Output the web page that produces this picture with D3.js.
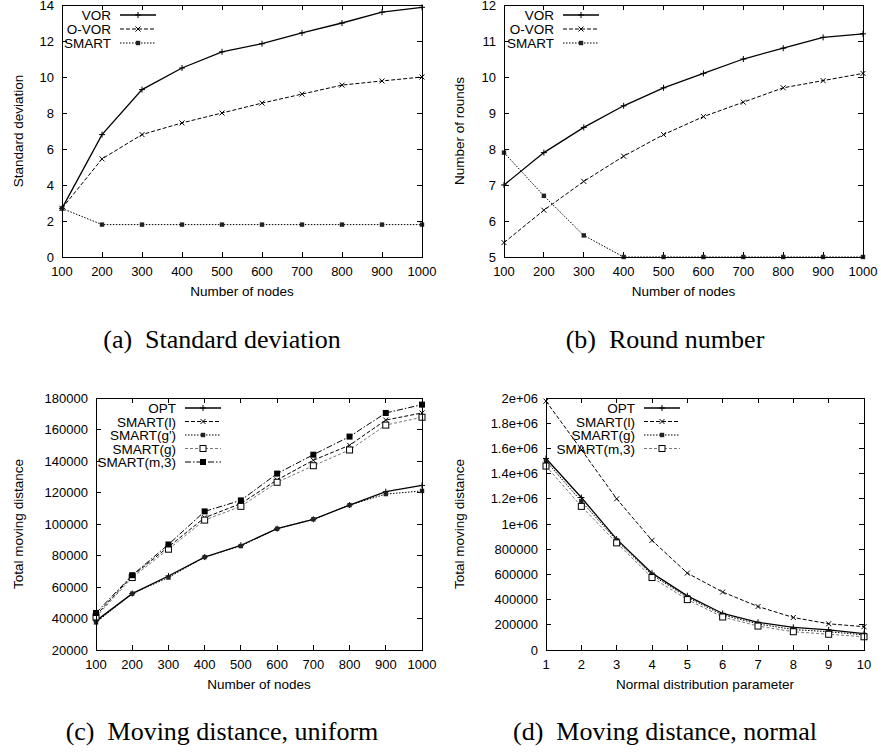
<!DOCTYPE html>
<html>
<head>
<meta charset="utf-8">
<script src="https://cdn.jsdelivr.net/npm/d3@7"></script>
<style>
body { margin: 0; background: #fff; }
svg { display: block; }
text { font-family: "Liberation Sans", Arial, sans-serif; fill: #000; }
.caption { font-family: "Liberation Serif", "Times New Roman", serif; font-size: 26px; }
</style>
</head>
<body>
<svg id="fig" width="881" height="753"></svg>
<script>
// x values
const nodeCounts = [100, 200, 300, 400, 500, 600, 700, 800, 900, 1000];
const normalParams = [1, 2, 3, 4, 5, 6, 7, 8, 9, 10];

// (a) standard deviation
const sdVor   = [2.7, 6.8, 9.3, 10.5, 11.4, 11.85, 12.45, 13.0, 13.6, 13.87];
const sdOVor  = [2.7, 5.45, 6.8, 7.45, 8.0, 8.55, 9.05, 9.55, 9.78, 10.0];
const sdSmart = [2.7, 1.8, 1.8, 1.8, 1.8, 1.8, 1.8, 1.8, 1.8, 1.8];

// (b) number of rounds
const rdVor   = [7.0, 7.9, 8.6, 9.2, 9.7, 10.1, 10.5, 10.8, 11.1, 11.2];
const rdOVor  = [5.4, 6.3, 7.1, 7.8, 8.4, 8.9, 9.3, 9.7, 9.9, 10.1];
const rdSmart = [7.9, 6.7, 5.6, 5.0, 5.0, 5.0, 5.0, 5.0, 5.0, 5.0];

// (c) moving distance, uniform
const uOpt     = [38500, 55800, 67000, 79000, 86500, 97000, 103000, 112000, 120500, 124500];
const uSmartL  = [42000, 67000, 85500, 104000, 113000, 128000, 140500, 150000, 166000, 170500];
const uSmartGp = [37500, 55800, 66000, 79000, 86000, 97000, 103000, 112000, 119000, 121000];
const uSmartG  = [41000, 66000, 84000, 102500, 111200, 126500, 137000, 147000, 162800, 167800];
const uSmartM3 = [43500, 67500, 87000, 108000, 115000, 132000, 144000, 155500, 170500, 175800];

// (d) moving distance, normal
const nOpt     = [1520000, 1210000, 880000, 610000, 430000, 290000, 220000, 180000, 160000, 130000];
const nSmartL  = [1975000, 1590000, 1200000, 870000, 610000, 460000, 345000, 258000, 208000, 185000];
const nSmartG  = [1500000, 1180000, 870000, 595000, 418000, 278000, 207000, 162000, 145000, 120000];
const nSmartM3 = [1460000, 1140000, 850000, 575000, 400000, 262000, 190000, 145000, 125000, 105000];

// tick labels
const sdTicks = [0, 2, 4, 6, 8, 10, 12, 14];
const rdTicks = [5, 6, 7, 8, 9, 10, 11, 12];
const uTicks = [20000, 40000, 60000, 80000, 100000, 120000, 140000, 160000, 180000];
const nTicks = [0, 200000, 400000, 600000, 800000, 1000000, 1200000, 1400000, 1600000, 1800000, 2000000];
const nTickLabels = ["0", "200000", "400000", "600000", "800000", "1e+06", "1.2e+06", "1.4e+06", "1.6e+06", "1.8e+06", "2e+06"];

//line styles
const styles = {
    solid:  { dash: null, width: 1.3, color: "#000" },
    dashed: { dash: "4,2", width: 1, color: "#000" },
    dotted: { dash: "1.5,1.5", width: 1, color: "#000" },
    gray:   { dash: "3,2", width: 1, color: "#777" },
    dashDot:{ dash: "6,2,1.5,2", width: 1, color: "#000" }
};

const svg = d3.select("#fig");

const panels = [
    {
        box: [62, 422, 5, 257], xs: nodeCounts, xDomain: [100, 1000], yDomain: [0, 14],
        yTicks: sdTicks, yLabels: sdTicks.map(String),
        xTitle: "Number of nodes", yTitle: "Standard deviation", yTitleX: 23,
        legendRight: 111, legendStep: 14,
        caption: "(a)\u2002Standard deviation", captionX: 222, captionY: 348,
        series: [
            { name: "VOR", values: sdVor, style: "solid", marker: "plus" },
            { name: "O-VOR", values: sdOVor, style: "dashed", marker: "cross" },
            { name: "SMART", values: sdSmart, style: "dotted", marker: "star" }
        ]
    },
    {
        box: [504, 863, 5, 257], xs: nodeCounts, xDomain: [100, 1000], yDomain: [5, 12],
        yTicks: rdTicks, yLabels: rdTicks.map(String),
        xTitle: "Number of nodes", yTitle: "Number of rounds", yTitleX: 464,
        legendRight: 554, legendStep: 14,
        caption: "(b)\u2002Round number", captionX: 665, captionY: 348,
        series: [
            { name: "VOR", values: rdVor, style: "solid", marker: "plus" },
            { name: "O-VOR", values: rdOVor, style: "dashed", marker: "cross" },
            { name: "SMART", values: rdSmart, style: "dotted", marker: "star" }
        ]
    },
    {
        box: [96, 422, 398, 650], xs: nodeCounts, xDomain: [100, 1000], yDomain: [20000, 180000],
        yTicks: uTicks, yLabels: uTicks.map(String),
        xTitle: "Number of nodes", yTitle: "Total moving distance", yTitleX: 23,
        legendRight: 176, legendStep: 13.5,
        caption: "(c)\u2002Moving distance, uniform", captionX: 222, captionY: 740,
        series: [
            { name: "OPT", values: uOpt, style: "solid", marker: "plus" },
            { name: "SMART(l)", values: uSmartL, style: "dashed", marker: "cross" },
            { name: "SMART(g')", values: uSmartGp, style: "dotted", marker: "star" },
            { name: "SMART(g)", values: uSmartG, style: "gray", marker: "openSquare" },
            { name: "SMART(m,3)", values: uSmartM3, style: "dashDot", marker: "square" }
        ]
    },
    {
        box: [546, 864, 398, 650], xs: normalParams, xDomain: [1, 10], yDomain: [0, 2000000],
        yTicks: nTicks, yLabels: nTickLabels,
        xTitle: "Normal distribution parameter", yTitle: "Total moving distance", yTitleX: 464,
        legendRight: 635, legendStep: 13.5,
        caption: "(d)\u2002Moving distance, normal", captionX: 665, captionY: 740,
        series: [
            { name: "OPT", values: nOpt, style: "solid", marker: "plus" },
            { name: "SMART(l)", values: nSmartL, style: "dashed", marker: "cross" },
            { name: "SMART(g)", values: nSmartG, style: "dotted", marker: "star" },
            { name: "SMART(m,3)", values: nSmartM3, style: "gray", marker: "openSquare" }
        ]
    }
];

panels.forEach(drawPanel);

function drawMarker(g, type, x, y) {
    if (type === "plus") {
        g.append("path").attr("d", `M${x - 3},${y}H${x + 3}M${x},${y - 3}V${y + 3}`)
            .attr("stroke", "#000").attr("stroke-width", 1);
    } else if (type === "cross") {
        g.append("path").attr("d", `M${x - 2.5},${y - 2.5}L${x + 2.5},${y + 2.5}M${x - 2.5},${y + 2.5}L${x + 2.5},${y - 2.5}`)
            .attr("stroke", "#000").attr("stroke-width", 1);
    } else if (type === "star") {
        g.append("rect").attr("x", x - 2.2).attr("y", y - 2.2).attr("width", 4.4).attr("height", 4.4)
            .attr("fill", "#222");
    } else if (type === "openSquare") {
        g.append("rect").attr("x", x - 3).attr("y", y - 3).attr("width", 6).attr("height", 6)
            .attr("fill", "#fff").attr("stroke", "#000").attr("stroke-width", 1);
    } else if (type === "square") {
        g.append("rect").attr("x", x - 3).attr("y", y - 3).attr("width", 6).attr("height", 6)
            .attr("fill", "#000");
    }
}

function drawPanel(p) {
    const [x0, x1, y0, y1] = p.box;
    const x = d3.scaleLinear().domain(p.xDomain).range([x0, x1]);
    const y = d3.scaleLinear().domain(p.yDomain).range([y1, y0]);
    const g = svg.append("g");

    //ticks, mirrored on all four sides, pointing inward
    const tl = 5;
    p.xs.forEach(v => {
        g.append("path").attr("d", `M${x(v)},${y1}v${-tl}M${x(v)},${y0}v${tl}`)
            .attr("stroke", "#000").attr("stroke-width", 1).attr("shape-rendering", "crispEdges");
        g.append("text").attr("x", x(v)).attr("y", y1 + 19)
            .attr("text-anchor", "middle").style("font-size", "13px").text(v);
    });
    p.yTicks.forEach((v, i) => {
        g.append("path").attr("d", `M${x0},${y(v)}h${tl}M${x1},${y(v)}h${-tl}`)
            .attr("stroke", "#000").attr("stroke-width", 1).attr("shape-rendering", "crispEdges");
        g.append("text").attr("x", x0 - 8).attr("y", y(v) + 4.5)
            .attr("text-anchor", "end").style("font-size", "13px").text(p.yLabels[i]);
    });

    //series
    const line = d3.line().x((d, i) => x(p.xs[i])).y(d => y(d));
    p.series.forEach(s => {
        const st = styles[s.style];
        g.append("path").datum(s.values).attr("d", line)
            .attr("fill", "none").attr("stroke", st.color).attr("stroke-width", st.width)
            .attr("stroke-dasharray", st.dash);
    });
    p.series.forEach(s => {
        s.values.forEach((v, i) => drawMarker(g, s.marker, x(p.xs[i]), y(v)));
    });

    //frame
    g.append("rect").attr("x", x0).attr("y", y0).attr("width", x1 - x0).attr("height", y1 - y0)
        .attr("fill", "none").attr("stroke", "#000").attr("stroke-width", 1)
        .attr("shape-rendering", "crispEdges");

    //legend
    p.series.forEach((s, i) => {
        const st = styles[s.style];
        const ly = y0 + 10 + i * p.legendStep;
        g.append("text").attr("x", p.legendRight).attr("y", ly + 5)
            .attr("text-anchor", "end").style("font-size", "13.5px").text(s.name);
        g.append("line").attr("x1", p.legendRight + 9).attr("x2", p.legendRight + 45)
            .attr("y1", ly).attr("y2", ly)
            .attr("stroke", st.color).attr("stroke-width", st.width).attr("stroke-dasharray", st.dash);
        drawMarker(g, s.marker, p.legendRight + 27, ly);
    });

    //axis titles
    g.append("text").attr("x", (x0 + x1) / 2).attr("y", y1 + 39)
        .attr("text-anchor", "middle").style("font-size", "13.5px").text(p.xTitle);
    g.append("text").attr("transform", `translate(${p.yTitleX},${(y0 + y1) / 2}) rotate(-90)`)
        .attr("text-anchor", "middle").style("font-size", "13.5px").text(p.yTitle);

    //caption
    svg.append("text").attr("class", "caption").attr("x", p.captionX).attr("y", p.captionY)
        .attr("text-anchor", "middle").text(p.caption);
}
</script>
</body>
</html>
